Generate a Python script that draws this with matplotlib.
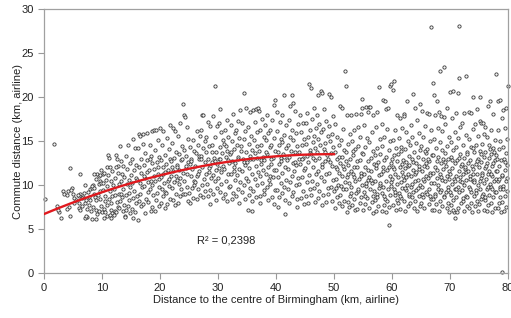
import numpy as np
import matplotlib
matplotlib.use("Agg")
import matplotlib.pyplot as plt

plt.rcParams['font.family'] = ['Liberation Sans', 'DejaVu Sans']

band_00_10 = [(0.2,8.4),(1.8,14.7),(2.2,7.6),(2.6,6.9),(3.0,6.2),(2.4,7.2),(3.2,9.3),(3.5,9.0),(4.1,9.3),(3.9,8.9),(4.5,11.9),(4.3,7.5),(4.5,6.5),(4.8,9.7),(4.7,9.4),(5.2,8.5),(5.2,7.9),(5.5,8.3),(6.2,11.3),(6.2,9.0),(6.1,8.8),(6.0,7.4),(6.2,7.2),(6.1,8.0),(6.9,9.1),(7.0,7.9),(7.2,8.3),(6.8,8.6),(7.4,7.3),(7.5,6.4),(7.1,6.3),(7.3,6.5),(7.8,8.6),(8.0,8.3),(7.8,7.7),(7.9,9.5),(8.2,9.7),(8.5,10.0),(8.3,9.9),(8.7,9.7),(8.9,10.7),(8.6,9.0),(8.8,8.6),(8.9,8.3),(8.4,7.5),(9.0,7.2),(9.1,6.7),(8.3,6.1),(8.9,6.1),(9.4,10.1),(9.6,10.4),(9.9,10.2),(9.7,8.4),(9.9,7.6),(9.5,7.0),(10.0,6.9),(9.2,11.3),(9.4,11.0),(9.7,11.1),(8.1,7.0),(5.8,8.9),(6.5,8.5),(7.6,9.2),(5.0,9.0),(4.0,7.3),(9.6,9.3),(9.3,8.9),(7.0,10.0),(6.6,7.6),(8.6,11.3),(9.8,11.7)]

band_10_20 = [(10.1,11.3),(10.3,11.4),(10.2,9.4),(10.5,8.7),(10.4,7.3),(10.6,6.9),(10.8,6.5),(10.3,6.3),(10.7,10.6),(10.9,9.9),(10.5,8.2),(10.8,7.7),(10.2,10.2),(10.9,12.1),
(11.0,13.4),(11.2,13.1),(11.3,12.0),(11.1,11.1),(11.5,10.4),(11.4,9.3),(11.7,8.8),(11.6,7.2),(11.8,6.8),(11.3,6.6),(11.9,10.0),(11.5,7.9),(11.2,8.4),(11.8,11.6),(11.6,6.3),
(12.1,9.6),(12.3,8.9),(12.2,7.1),(12.5,6.9),(12.4,13.4),(12.6,13.0),(12.8,12.2),(12.7,11.4),(12.9,10.1),(12.3,10.8),(12.6,8.1),(12.8,7.5),(12.1,6.6),(12.9,9.0),(12.4,12.0),
(13.1,14.4),(13.3,12.7),(13.5,11.3),(13.2,10.4),(13.7,9.5),(13.4,8.6),(13.8,7.7),(13.6,7.0),(13.9,6.5),(13.0,7.4),(13.3,9.0),(13.8,10.9),(13.6,12.2),(13.1,8.2),
(14.4,14.6),(14.1,13.3),(14.3,11.8),(14.6,10.6),(14.8,9.8),(14.2,8.9),(14.7,8.3),(14.5,7.6),(14.9,6.8),(14.0,6.4),(14.8,12.5),(14.3,10.1),(14.6,9.1),(14.1,7.2),
(15.4,15.2),(15.7,14.2),(15.2,13.0),(15.5,11.7),(15.8,10.8),(15.1,10.2),(15.6,9.3),(15.3,8.5),(15.9,7.9),(15.2,7.3),(15.7,6.9),(15.4,6.2),(15.9,12.3),(15.0,11.1),
(16.3,15.8),(16.6,15.6),(16.2,14.2),(16.8,13.0),(16.4,12.1),(16.7,11.4),(16.1,10.6),(16.9,9.8),(16.5,9.0),(16.3,8.2),(16.8,7.6),(16.2,6.0),(16.6,10.2),(16.0,8.7),
(17.1,15.8),(17.0,14.7),(17.7,15.9),(17.4,13.6),(17.2,12.3),(17.8,11.5),(17.5,10.8),(17.3,9.9),(17.9,9.2),(17.6,8.4),(17.1,7.8),(17.5,6.8),(17.8,12.8),(17.3,11.0),(17.9,10.3),
(18.6,16.1),(18.9,16.3),(18.2,14.5),(18.4,13.3),(18.7,12.5),(18.1,11.7),(18.9,11.0),(18.5,10.4),(18.3,9.6),(18.8,8.9),(18.0,8.1),(18.6,7.5),(18.4,7.0),(18.2,12.9),(18.7,10.0),
(19.3,16.2),(19.6,15.1),(19.1,14.0),(19.8,13.2),(19.4,12.6),(19.0,11.8),(19.7,11.2),(19.2,10.5),(19.9,9.8),(19.5,9.1),(19.3,8.3),(19.8,7.6),(19.1,7.1),(19.6,12.0),(19.9,10.7)]

band_20_30 = [(20.0,16.5),(20.6,16.1),(20.3,14.6),(20.8,13.4),(20.2,12.8),(20.5,12.1),(20.9,11.5),(20.1,10.9),(20.7,10.2),(20.4,9.6),(20.6,8.8),(20.2,8.0),(20.9,7.4),(20.5,11.2),(20.8,9.2),
(21.7,16.8),(21.2,15.3),(21.5,14.1),(21.8,13.0),(21.1,12.4),(21.4,11.7),(21.9,11.0),(21.3,10.4),(21.6,9.9),(21.0,9.1),(21.7,8.4),(21.2,7.8),(21.9,12.7),(21.5,10.7),
(22.3,16.5),(22.6,16.1),(22.1,14.8),(22.8,13.8),(22.4,13.1),(22.9,12.3),(22.2,11.6),(22.7,11.0),(22.5,10.3),(22.0,9.7),(22.8,9.0),(22.3,8.3),(22.6,7.7),(22.1,12.0),(22.9,10.6),
(23.5,17.0),(23.1,15.6),(23.8,14.4),(23.3,13.5),(23.6,12.8),(23.0,12.1),(23.9,11.4),(23.4,10.8),(23.2,10.1),(23.7,9.5),(23.5,8.7),(23.1,8.0),(23.8,13.0),(23.3,11.7),(23.9,9.0),
(24.0,19.2),(24.1,17.9),(24.3,17.7),(24.6,16.6),(24.8,15.2),(24.2,14.0),(24.5,13.3),(24.9,12.6),(24.4,11.9),(24.7,11.2),(24.1,10.4),(24.6,9.8),(24.3,9.0),(24.8,8.2),(24.5,12.2),
(25.7,15.1),(25.2,14.3),(25.9,13.9),(25.4,13.0),(25.1,12.4),(25.6,11.8),(25.3,11.0),(25.8,10.5),(25.5,9.7),(25.0,9.1),(25.7,8.5),(25.2,7.9),(25.4,12.7),(25.9,10.0),
(26.3,16.1),(26.9,15.6),(26.5,14.6),(26.2,13.6),(26.7,12.9),(26.0,12.2),(26.8,11.6),(26.4,11.0),(26.1,10.3),(26.6,9.6),(26.9,8.9),(26.3,8.4),(26.7,13.3),(26.5,11.3),
(27.2,18.0),(27.5,18.0),(27.1,16.3),(27.8,15.0),(27.4,14.2),(27.0,13.3),(27.7,12.6),(27.3,12.0),(27.9,11.3),(27.6,10.7),(27.2,10.0),(27.8,9.3),(27.5,8.6),(27.1,12.9),(27.9,13.8),
(28.3,17.2),(28.7,16.7),(28.0,15.4),(28.5,14.4),(28.9,13.7),(28.2,12.9),(28.6,12.2),(28.4,11.5),(28.8,10.8),(28.1,10.1),(28.7,9.4),(28.3,8.8),(28.7,7.8),(28.5,11.9),(28.9,12.6),
(29.5,21.3),(29.2,17.8),(29.8,16.7),(29.4,15.5),(29.0,14.6),(29.7,13.8),(29.3,13.1),(29.9,12.4),(29.6,11.7),(29.1,11.1),(29.5,10.4),(29.8,9.7),(29.2,9.0),(29.6,8.3),(29.4,12.7)]

band_30_40 = [(30.3,18.6),(30.1,17.0),(30.6,16.0),(30.9,15.1),(30.4,14.3),(30.7,13.6),(30.2,12.9),(30.8,12.2),(30.5,11.5),(30.0,10.8),(30.6,10.1),(30.3,9.2),(30.9,8.5),(30.4,13.0),(30.1,11.9),
(31.5,17.4),(31.2,16.3),(31.8,15.4),(31.0,14.7),(31.6,13.9),(31.3,13.2),(31.9,12.5),(31.1,11.8),(31.7,11.2),(31.4,10.5),(31.9,9.8),(31.2,9.0),(31.6,8.2),(31.8,12.8),(31.3,14.4),
(32.6,18.1),(32.2,16.8),(32.9,15.9),(32.4,15.0),(32.7,14.1),(32.0,13.5),(32.5,12.7),(32.8,12.0),(32.3,11.3),(32.9,10.6),(32.1,9.9),(32.6,9.1),(32.4,8.4),(32.2,13.8),(32.7,11.6),
(33.8,18.5),(33.4,17.3),(33.1,16.2),(33.7,15.3),(33.3,14.6),(33.9,13.9),(33.5,13.2),(33.0,12.5),(33.6,11.8),(33.2,11.1),(33.8,10.3),(33.4,9.6),(33.1,8.7),(33.7,7.9),(33.5,12.9),
(34.5,20.5),(34.9,18.7),(34.2,17.0),(34.7,16.1),(34.4,15.2),(34.0,14.4),(34.8,13.7),(34.3,13.0),(34.6,12.3),(34.1,11.6),(34.9,10.8),(34.5,10.0),(34.2,9.2),(34.7,8.4),(34.4,12.6),
(35.2,7.2),(35.8,7.1),(35.5,18.3),(35.1,16.6),(35.7,15.6),(35.3,14.7),(35.9,14.0),(35.6,13.3),(35.0,12.6),(35.4,11.9),(35.8,11.2),(35.2,10.4),(35.6,9.7),(35.3,8.9),(35.9,8.2),(35.5,12.9),
(36.1,18.5),(36.6,18.6),(36.9,18.7),(36.3,17.2),(36.7,16.0),(36.2,15.1),(36.8,14.4),(36.4,13.6),(36.0,12.9),(36.5,12.2),(36.9,11.5),(36.3,10.7),(36.7,10.0),(36.1,9.3),(36.5,8.6),(36.8,13.1),
(37.1,18.4),(37.2,8.0),(37.6,17.5),(37.3,16.3),(37.9,15.4),(37.5,14.6),(37.0,13.9),(37.7,13.2),(37.4,12.4),(37.8,11.7),(37.2,11.0),(37.6,10.2),(37.9,9.4),(37.3,8.7),(37.5,12.8),
(38.4,18.0),(38.1,16.8),(38.7,15.9),(38.3,15.1),(38.9,14.3),(38.5,13.5),(38.0,12.8),(38.6,12.0),(38.2,11.3),(38.8,10.6),(38.4,9.8),(38.0,9.0),(38.7,8.3),(38.3,13.7),(38.9,11.0),
(39.8,19.7),(39.7,19.1),(39.3,17.4),(39.0,16.2),(39.6,15.3),(39.2,14.6),(39.9,13.9),(39.4,13.1),(39.1,12.4),(39.7,11.7),(39.5,10.9),(39.0,10.1),(39.8,9.4),(39.3,8.6),(39.6,7.8),(39.2,12.9)]

band_40_50 = [(40.4,7.5),(40.2,18.3),(40.7,17.2),(40.1,16.1),(40.8,15.2),(40.5,14.5),(40.3,13.8),(40.9,13.1),(40.6,12.4),(40.0,11.7),(40.4,10.9),(40.8,10.2),(40.2,9.4),(40.6,8.6),(40.9,12.7),
(41.3,20.2),(41.6,6.7),(41.1,18.0),(41.8,16.8),(41.4,15.7),(41.0,14.9),(41.7,14.2),(41.2,13.5),(41.9,12.8),(41.5,12.1),(41.1,11.4),(41.8,10.6),(41.4,9.8),(41.0,9.1),(41.6,8.3),(41.3,13.2),
(42.7,20.2),(42.9,19.3),(42.5,19.0),(42.2,17.4),(42.8,16.3),(42.4,15.4),(42.0,14.6),(42.6,13.9),(42.3,13.2),(42.9,12.5),(42.1,11.8),(42.7,11.0),(42.4,10.3),(42.0,9.5),(42.8,8.7),(42.3,7.9),
(43.6,7.5),(43.2,18.4),(43.8,16.9),(43.4,15.9),(43.0,15.1),(43.7,14.4),(43.3,13.7),(43.9,13.0),(43.5,12.3),(43.1,11.6),(43.8,10.8),(43.4,10.0),(43.0,9.2),(43.6,8.4),(43.2,12.6),
(44.1,17.9),(44.6,17.0),(44.3,16.0),(44.9,15.2),(44.5,14.5),(44.0,13.8),(44.7,13.1),(44.2,12.4),(44.8,11.7),(44.4,10.9),(44.0,10.1),(44.6,9.3),(44.3,8.5),(44.9,7.8),(44.5,12.9),
(45.7,21.5),(45.4,18.2),(45.1,17.0),(45.8,16.3),(45.5,15.4),(45.2,14.7),(45.9,14.0),(45.3,13.3),(45.6,12.6),(45.0,11.9),(45.7,11.1),(45.3,10.3),(45.9,9.5),(45.1,8.7),(45.5,7.9),(45.8,13.6),
(46.0,21.0),(46.5,18.7),(46.2,17.5),(46.9,16.5),(46.6,15.6),(46.3,14.9),(46.8,14.2),(46.1,13.5),(46.7,12.8),(46.4,12.1),(46.9,11.3),(46.2,10.5),(46.6,9.7),(46.0,8.9),(46.8,8.1),(46.4,13.1),
(47.3,20.2),(47.7,20.7),(47.9,20.5),(47.1,18.0),(47.5,16.9),(47.8,16.0),(47.2,15.2),(47.6,14.5),(47.0,13.8),(47.4,13.1),(47.9,12.4),(47.3,11.6),(47.7,10.9),(47.1,10.1),(47.5,9.3),(47.9,7.7),(47.2,8.5),
(48.3,18.6),(48.7,17.3),(48.1,16.4),(48.9,15.6),(48.5,14.8),(48.2,14.1),(48.8,13.4),(48.4,12.7),(48.0,12.0),(48.6,11.3),(48.3,10.5),(48.9,9.7),(48.1,8.9),(48.7,8.1),(48.5,13.8),
(49.2,20.3),(49.4,20.0),(49.8,17.8),(49.1,16.7),(49.6,15.8),(49.3,15.0),(49.9,14.3),(49.5,13.6),(49.0,12.9),(49.7,12.2),(49.2,11.4),(49.8,10.6),(49.4,9.8),(49.0,9.0),(49.6,8.2),(49.3,12.6)]

band_50_60 = [(50.2,16.9),(50.5,15.5),(50.8,14.6),(50.1,13.7),(50.6,12.9),(50.3,12.1),(50.9,11.4),(50.4,10.7),(50.7,10.0),(50.0,9.3),(50.5,8.6),(50.8,8.0),(50.2,7.4),(50.6,11.8),(50.3,9.7),(50.9,13.2),
(51.9,23.0),(52.0,21.2),(51.1,19.0),(51.3,18.7),(51.6,16.4),(51.2,15.1),(51.8,14.0),(51.4,13.2),(51.0,12.5),(51.7,11.8),(51.3,11.0),(51.9,10.3),(51.5,9.6),(51.1,8.9),(51.8,8.2),(51.4,7.6),(51.6,12.2),(51.2,9.9),
(52.3,6.9),(52.3,17.9),(52.8,15.8),(52.5,14.7),(52.1,13.8),(52.7,13.0),(52.4,12.3),(52.9,11.6),(52.2,10.9),(52.6,10.2),(52.0,9.5),(52.8,8.8),(52.4,8.1),(52.6,7.5),(52.1,12.7),(52.9,9.1),(52.5,11.3),
(53.0,17.9),(53.8,18.1),(53.4,16.2),(53.1,15.0),(53.7,14.1),(53.3,13.4),(53.9,12.7),(53.5,12.0),(53.2,11.2),(53.6,10.5),(53.0,9.8),(53.8,9.1),(53.4,8.4),(53.1,7.7),(53.7,7.2),(53.5,10.9),(53.3,13.9),
(54.8,19.8),(54.7,18.1),(54.8,18.7),(54.2,16.6),(54.5,15.4),(54.1,14.4),(54.9,13.6),(54.4,12.8),(54.0,12.1),(54.6,11.4),(54.3,10.7),(54.9,10.0),(54.2,9.3),(54.7,8.6),(54.4,7.9),(54.0,7.3),(54.6,11.0),(54.1,9.6),
(55.6,18.9),(55.9,18.3),(55.2,16.8),(55.7,15.3),(55.3,14.3),(55.0,13.5),(55.8,12.7),(55.4,12.0),(55.1,11.3),(55.9,10.6),(55.5,9.9),(55.2,9.2),(55.7,8.5),(55.3,7.8),(55.0,7.2),(55.6,10.2),(55.4,8.8),(55.8,11.7),
(56.0,18.9),(56.2,18.9),(56.8,17.9),(56.5,16.0),(56.1,14.9),(56.7,13.9),(56.3,13.1),(56.9,12.4),(56.4,11.6),(56.0,10.9),(56.6,10.2),(56.2,9.5),(56.8,8.8),(56.5,8.1),(56.1,7.4),(56.7,6.8),(56.3,10.6),(56.9,9.3),
(57.8,21.1),(57.5,18.3),(57.2,16.6),(57.9,15.2),(57.4,14.2),(57.0,13.4),(57.6,12.6),(57.3,11.9),(57.8,11.1),(57.1,10.4),(57.7,9.7),(57.4,9.0),(57.0,8.3),(57.6,7.6),(57.2,7.0),(57.9,10.0),(57.5,8.6),(57.3,12.3),
(58.5,19.7),(58.8,19.5),(58.9,18.6),(58.2,16.9),(58.6,15.4),(58.3,14.4),(58.0,13.5),(58.7,12.8),(58.4,12.0),(58.1,11.3),(58.9,10.5),(58.5,9.8),(58.2,9.1),(58.8,8.4),(58.6,7.7),(58.3,7.1),(58.0,10.2),(58.7,8.8),(58.4,11.6),
(59.6,21.2),(59.9,21.5),(59.5,5.4),(59.3,18.8),(59.1,16.4),(59.7,15.0),(59.4,14.0),(59.0,13.2),(59.8,12.5),(59.2,11.7),(59.6,11.0),(59.9,10.3),(59.3,9.6),(59.7,8.9),(59.1,8.2),(59.5,7.5),(59.0,6.9),(59.8,9.9),(59.4,12.1)]

band_60_70 = [(60.3,21.8),(60.2,20.8),(60.8,17.9),(60.5,16.3),(60.1,15.1),(60.7,14.2),(60.4,13.4),(60.9,12.7),(60.2,12.0),(60.6,11.3),(60.0,10.7),(60.8,10.1),(60.3,9.5),(60.5,8.9),(60.9,8.3),(60.1,7.7),(60.7,7.2),(60.4,11.8),(60.6,9.2),(60.0,12.9),
(61.4,17.6),(61.8,16.5),(61.2,15.3),(61.6,14.3),(61.0,13.5),(61.9,12.8),(61.3,12.1),(61.7,11.5),(61.1,10.9),(61.5,10.3),(61.8,9.7),(61.2,9.1),(61.6,8.5),(61.0,7.9),(61.4,7.3),(61.9,11.0),(61.3,8.8),(61.7,12.4),(61.5,13.9),
(62.0,18.1),(62.1,17.8),(62.6,19.5),(62.4,16.0),(62.8,15.0),(62.2,14.1),(62.9,13.3),(62.5,12.6),(62.3,11.9),(62.7,11.2),(62.0,10.6),(62.6,10.0),(62.4,9.4),(62.9,8.8),(62.1,8.2),(62.7,7.6),(62.3,7.0),(62.5,10.9),(62.8,12.2),(62.2,9.7),
(63.7,20.3),(63.9,18.7),(63.2,16.8),(63.5,15.5),(63.1,14.5),(63.8,13.7),(63.4,13.0),(63.0,12.3),(63.6,11.7),(63.3,11.0),(63.9,10.4),(63.2,9.8),(63.7,9.2),(63.5,8.6),(63.1,8.0),(63.8,7.4),(63.4,10.1),(63.6,12.6),(63.0,9.0),
(64.8,19.2),(64.3,17.4),(64.6,15.9),(64.1,14.8),(64.9,14.0),(64.5,13.2),(64.2,12.5),(64.7,11.8),(64.0,11.2),(64.4,10.6),(64.8,10.0),(64.2,9.4),(64.6,8.8),(64.0,8.2),(64.9,7.6),(64.3,7.0),(64.7,12.2),(64.5,9.7),(64.1,11.5),
(65.2,18.4),(65.7,16.7),(65.4,15.4),(65.0,14.4),(65.8,13.6),(65.3,12.9),(65.6,12.2),(65.1,11.6),(65.9,11.0),(65.5,10.4),(65.2,9.8),(65.8,9.2),(65.4,8.6),(65.0,8.0),(65.6,7.4),(65.3,10.7),(65.9,12.5),(65.1,9.0),(65.7,13.9),
(66.7,27.9),(66.0,18.2),(66.3,18.1),(66.8,16.2),(66.5,15.0),(66.1,14.1),(66.9,13.4),(66.4,12.7),(66.0,12.0),(66.6,11.4),(66.2,10.8),(66.8,10.2),(66.4,9.6),(66.1,9.0),(66.7,8.4),(66.3,7.8),(66.9,7.2),(66.5,11.1),(66.2,12.9),(66.6,8.7),
(67.0,21.6),(67.2,20.2),(67.7,19.5),(67.5,17.9),(67.9,16.5),(67.3,15.2),(67.6,14.2),(67.1,13.4),(67.8,12.7),(67.4,12.0),(67.0,11.4),(67.7,10.8),(67.3,10.2),(67.9,9.6),(67.5,9.0),(67.1,8.4),(67.6,7.8),(67.2,7.2),(67.8,11.7),(67.4,8.7),
(68.2,23.0),(68.1,18.3),(68.4,17.8),(68.9,17.7),(68.6,16.1),(68.3,14.9),(68.7,14.0),(68.0,13.2),(68.5,12.5),(68.8,11.8),(68.2,11.2),(68.6,10.6),(68.0,10.0),(68.4,9.4),(68.9,8.8),(68.3,8.2),(68.7,7.6),(68.1,7.0),(68.5,10.9),(68.8,12.9),(68.2,9.2),
(69.0,23.4),(69.9,6.9),(69.5,18.8),(69.2,16.9),(69.8,15.4),(69.4,14.4),(69.1,13.6),(69.7,12.9),(69.3,12.2),(69.9,11.6),(69.5,11.0),(69.1,10.4),(69.7,9.8),(69.3,9.2),(69.0,8.6),(69.6,8.0),(69.4,7.4),(69.8,10.7),(69.2,12.6),(69.6,9.4)]

band_70_80 = [(70.0,20.6),(70.6,20.7),(70.9,6.2),(70.7,6.9),(70.3,17.6),(70.8,16.0),(70.1,14.9),(70.5,14.0),(70.2,13.2),(70.9,12.5),(70.4,11.9),(70.0,11.3),(70.7,10.7),(70.3,10.1),(70.8,9.5),(70.1,8.9),(70.6,8.3),(70.2,7.7),(70.5,7.2),(70.9,10.4),(70.4,12.8),(70.0,9.2),
(71.6,28.1),(71.3,20.5),(71.6,22.2),(71.1,18.2),(71.8,16.6),(71.4,15.3),(71.0,14.3),(71.7,13.5),(71.2,12.8),(71.9,12.2),(71.5,11.6),(71.1,11.0),(71.8,10.4),(71.3,9.8),(71.6,9.2),(71.0,8.6),(71.9,8.0),(71.4,7.4),(71.2,6.9),(71.7,10.9),(71.5,13.1),(71.0,9.5),
(72.8,22.4),(72.4,18.2),(72.1,17.0),(72.7,15.7),(72.3,14.6),(72.9,13.8),(72.5,13.1),(72.0,12.4),(72.6,11.8),(72.2,11.2),(72.8,10.6),(72.4,10.0),(72.0,9.4),(72.7,8.8),(72.3,8.2),(72.9,7.6),(72.5,7.0),(72.1,10.3),(72.6,12.1),(72.2,8.5),(72.8,11.5),
(73.3,18.3),(73.6,18.2),(73.9,16.4),(73.2,15.2),(73.7,14.3),(73.0,13.5),(73.5,12.8),(73.8,12.2),(73.1,11.6),(73.4,11.0),(73.9,10.4),(73.3,9.8),(73.6,9.2),(73.0,8.6),(73.7,8.0),(73.2,7.4),(73.8,6.9),(73.5,10.7),(73.1,12.5),(73.4,9.5),(73.9,11.3),
(74.0,20.0),(74.6,18.6),(74.3,16.9),(74.9,15.6),(74.5,14.5),(74.1,13.7),(74.8,13.0),(74.4,12.4),(74.0,11.8),(74.7,11.2),(74.2,10.6),(74.9,10.0),(74.5,9.4),(74.1,8.8),(74.6,8.2),(74.3,7.6),(74.8,7.0),(74.2,10.3),(74.7,12.7),(74.4,9.1),(74.0,14.2),
(75.2,20.0),(75.2,17.3),(75.3,17.1),(75.7,17.1),(75.9,15.8),(75.5,14.7),(75.1,13.9),(75.8,13.2),(75.4,12.6),(75.0,12.0),(75.6,11.4),(75.3,10.8),(75.9,10.2),(75.2,9.6),(75.7,9.0),(75.4,8.4),(75.0,7.8),(75.8,7.2),(75.5,11.1),(75.1,10.5),(75.6,8.7),(75.3,13.5),
(76.0,16.6),(76.6,19.0),(76.9,19.5),(76.3,15.4),(76.7,14.5),(76.1,13.8),(76.8,13.1),(76.4,12.5),(76.0,11.9),(76.5,11.3),(76.2,10.7),(76.9,10.1),(76.3,9.5),(76.7,8.9),(76.1,8.3),(76.6,7.7),(76.4,7.1),(76.8,11.6),(76.2,12.2),(76.5,9.8),(76.9,14.1),(76.0,8.6),
(77.4,18.1),(77.1,16.2),(77.8,15.1),(77.5,14.2),(77.0,13.5),(77.7,12.8),(77.3,12.2),(77.9,11.6),(77.2,11.0),(77.6,10.4),(77.0,9.8),(77.8,9.2),(77.4,8.6),(77.1,8.0),(77.7,7.4),(77.3,6.9),(77.9,10.7),(77.5,12.5),(77.2,9.5),(77.6,13.8),(77.1,11.3),
(78.0,22.6),(78.3,19.5),(78.6,19.7),(78.9,17.6),(78.2,16.3),(78.7,15.0),(78.4,14.1),(78.0,13.4),(78.8,12.8),(78.5,12.2),(78.1,11.6),(78.9,11.0),(78.3,10.4),(78.6,9.8),(78.0,9.2),(78.7,8.6),(78.4,8.0),(78.2,7.4),(78.8,6.9),(78.5,10.7),(78.1,12.9),(78.6,9.5),
(79.0,0.1),(80.0,21.3),(79.2,18.5),(79.7,18.7),(79.4,16.5),(79.8,15.2),(79.1,14.3),(79.6,13.6),(79.3,12.9),(79.9,12.3),(79.5,11.7),(79.0,11.1),(79.7,10.5),(79.2,9.9),(79.8,9.3),(79.4,8.7),(79.0,8.1),(79.6,7.5),(79.3,7.0),(79.9,10.8),(79.5,12.6),(79.1,9.6)]

# Polynomial trendline (order 2), drawn over 0-50 km
trend_coef = [-0.0028, 0.276, 6.7]
trend_range = [0, 50]
r2_text = "R² = 0,2398"

x_ticks = [0, 10, 20, 30, 40, 50, 60, 70, 80]
y_ticks = [0, 5, 10, 15, 20, 25, 30]
x_label = "Distance to the centre of Birmingham (km, airline)"
y_label = "Commute distance (km, airline)"

points = band_00_10 + band_10_20 + band_20_30 + band_30_40 + band_40_50 + band_50_60 + band_60_70 + band_70_80
dist = np.array([p[0] for p in points])
commute = np.array([p[1] for p in points])

fig = plt.figure(figsize=(5.11, 3.18), dpi=100)
ax = fig.add_axes([0.0861, 0.1415, 0.9080, 0.8302])

ax.scatter(dist, commute, s=5.5, facecolors='#f6f6f6', edgecolors='#3a3a3a',
           linewidths=0.6, zorder=2, clip_on=False)

xt = np.linspace(trend_range[0], trend_range[1], 200)
ax.plot(xt, np.polyval(trend_coef, xt), color='#e0191e', lw=1.7, zorder=3)

ax.text(26.4, 3.7, r2_text, fontsize=8, color='#222222', va='center', ha='left')

ax.set_xlim(0, 80)
ax.set_ylim(0, 30)
ax.set_xticks(x_ticks)
ax.set_yticks(y_ticks)
ax.set_xlabel(x_label, fontsize=8, color='#222222', labelpad=1)
ax.set_ylabel(y_label, fontsize=8, color='#222222', labelpad=-1)
ax.tick_params(axis='both', labelsize=8, colors='#222222', length=4, width=0.8,
               direction='out', color='#999999')
for s in ax.spines.values():
    s.set_color('#a0a0a0')
    s.set_linewidth(0.9)

fig.savefig('out.png', dpi=100)
